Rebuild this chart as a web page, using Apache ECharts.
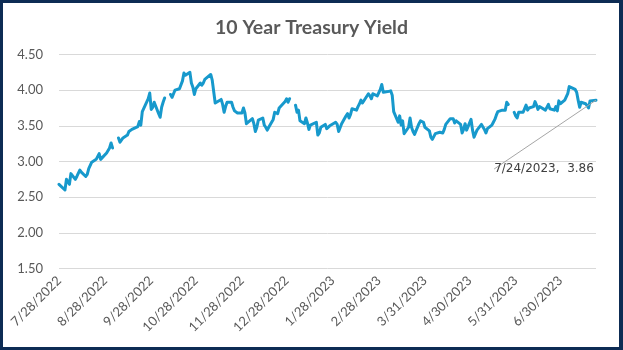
<!DOCTYPE html>
<html>
<head>
<meta charset="utf-8">
<script src="https://cdn.jsdelivr.net/npm/echarts@6/dist/echarts.min.js"></script>
<style>
  html, body { margin: 0; padding: 0; background: #ffffff; }
  #wrap { position: relative; width: 623px; height: 350px; }
  #chart { position: absolute; left: 0; top: 0; width: 623px; height: 350px; }
  #frame {
    position: absolute; left: 0; top: 0; width: 623px; height: 350px;
    box-sizing: border-box; border: 3px solid #0d2c54; border-right-width: 4px;
    pointer-events: none;
  }
</style>
</head>
<body>
<div id="wrap">
  <div id="chart"></div>
  <div id="frame"></div>
</div>
<script>
// Daily 10-year Treasury yield (%), M/D/YYYY; null = market holiday (line break)
const dates = [
  '7/28/2022','7/29/2022',
  '8/1/2022','8/2/2022','8/3/2022','8/4/2022','8/5/2022','8/8/2022','8/9/2022','8/10/2022','8/11/2022','8/12/2022',
  '8/15/2022','8/16/2022','8/17/2022','8/18/2022','8/19/2022','8/22/2022','8/23/2022','8/24/2022','8/25/2022','8/26/2022',
  '8/29/2022','8/30/2022','8/31/2022',
  '9/1/2022','9/2/2022','9/5/2022','9/6/2022','9/7/2022','9/8/2022','9/9/2022','9/12/2022','9/13/2022','9/14/2022',
  '9/15/2022','9/16/2022','9/19/2022','9/20/2022','9/21/2022','9/22/2022','9/23/2022','9/26/2022','9/27/2022','9/28/2022',
  '9/29/2022','9/30/2022',
  '10/3/2022','10/4/2022','10/5/2022','10/6/2022','10/7/2022','10/10/2022','10/11/2022','10/12/2022','10/13/2022','10/14/2022',
  '10/17/2022','10/18/2022','10/19/2022','10/20/2022','10/21/2022','10/24/2022','10/25/2022','10/26/2022','10/27/2022','10/28/2022',
  '10/31/2022',
  '11/1/2022','11/2/2022','11/3/2022','11/4/2022','11/7/2022','11/8/2022','11/9/2022','11/10/2022','11/14/2022','11/15/2022',
  '11/16/2022','11/17/2022','11/18/2022','11/21/2022','11/22/2022','11/23/2022','11/25/2022','11/28/2022','11/29/2022','11/30/2022',
  '12/1/2022','12/2/2022','12/5/2022','12/6/2022','12/7/2022','12/8/2022','12/9/2022','12/12/2022','12/13/2022','12/14/2022',
  '12/15/2022','12/16/2022','12/19/2022','12/20/2022','12/21/2022','12/22/2022','12/23/2022','12/27/2022','12/28/2022','12/29/2022',
  '12/30/2022',
  '1/2/2023','1/3/2023','1/4/2023','1/5/2023','1/6/2023','1/9/2023','1/10/2023','1/11/2023','1/12/2023','1/13/2023',
  '1/17/2023','1/18/2023','1/19/2023','1/20/2023','1/23/2023','1/24/2023','1/25/2023','1/26/2023','1/27/2023','1/30/2023',
  '1/31/2023',
  '2/1/2023','2/2/2023','2/3/2023','2/6/2023','2/7/2023','2/8/2023','2/9/2023','2/10/2023','2/13/2023','2/14/2023',
  '2/15/2023','2/16/2023','2/17/2023','2/21/2023','2/22/2023','2/23/2023','2/24/2023','2/27/2023','2/28/2023',
  '3/1/2023','3/2/2023','3/3/2023','3/6/2023','3/7/2023','3/8/2023','3/9/2023','3/10/2023','3/13/2023','3/14/2023',
  '3/15/2023','3/16/2023','3/17/2023','3/20/2023','3/21/2023','3/22/2023','3/23/2023','3/24/2023','3/27/2023','3/28/2023',
  '3/29/2023','3/30/2023','3/31/2023',
  '4/3/2023','4/4/2023','4/5/2023','4/6/2023','4/7/2023','4/10/2023','4/11/2023','4/12/2023','4/13/2023','4/14/2023',
  '4/17/2023','4/18/2023','4/19/2023','4/20/2023','4/21/2023','4/24/2023','4/25/2023','4/26/2023','4/27/2023','4/28/2023',
  '5/1/2023','5/2/2023','5/3/2023','5/4/2023','5/5/2023','5/8/2023','5/9/2023','5/10/2023','5/11/2023','5/12/2023',
  '5/15/2023','5/16/2023','5/17/2023','5/18/2023','5/19/2023','5/22/2023','5/23/2023','5/24/2023','5/25/2023','5/26/2023',
  '5/29/2023','5/30/2023','5/31/2023',
  '6/1/2023','6/2/2023','6/5/2023','6/6/2023','6/7/2023','6/8/2023','6/9/2023','6/12/2023','6/13/2023','6/14/2023',
  '6/15/2023','6/16/2023','6/20/2023','6/21/2023','6/22/2023','6/23/2023','6/26/2023','6/27/2023','6/28/2023','6/29/2023',
  '6/30/2023',
  '7/3/2023','7/5/2023','7/6/2023','7/7/2023','7/10/2023','7/11/2023','7/12/2023','7/13/2023','7/14/2023','7/17/2023',
  '7/18/2023','7/19/2023','7/20/2023','7/21/2023','7/24/2023'
];

const yields = [
  2.68, 2.67,
  2.60, 2.75, 2.73, 2.68, 2.83, 2.75, 2.79, 2.78, 2.88, 2.85,
  2.79, 2.82, 2.90, 2.88, 2.99, 3.03, 3.05, 3.11, 3.03, 3.04,
  3.12, 3.11, 3.19,
  3.26, 3.19, null, 3.33, 3.27, 3.29, 3.33, 3.37, 3.42, 3.41,
  3.45, 3.45, 3.49, 3.56, 3.51, 3.70, 3.69, 3.88, 3.96, 3.73,
  3.76, 3.83,
  3.67, 3.62, 3.76, 3.83, 3.89, null, 3.94, 3.90, 3.95, 4.00,
  4.02, 4.01, 4.13, 4.24, 4.21, 4.25, 4.10, 4.04, 3.94, 4.02,
  4.10,
  4.07, 4.10, 4.15, 4.17, 4.22, 4.14, 4.12, 3.82, 3.87, 3.80,
  3.69, 3.77, 3.83, 3.83, 3.76, 3.71, 3.68, 3.68, 3.75, 3.68,
  3.53, 3.51, 3.60, 3.53, 3.42, 3.48, 3.58, 3.61, 3.51, 3.48,
  3.44, 3.48, 3.59, 3.69, 3.68, 3.67, 3.75, 3.84, 3.88, 3.83,
  3.88,
  null, 3.79, 3.69, 3.72, 3.57, 3.53, 3.61, 3.54, 3.45, 3.51,
  3.55, 3.37, 3.40, 3.48, 3.52, 3.46, 3.46, 3.50, 3.52, 3.55,
  3.52,
  3.42, 3.40, 3.53, 3.64, 3.67, 3.61, 3.66, 3.74, 3.72, 3.77,
  3.81, 3.86, 3.82, 3.95, 3.92, 3.88, 3.95, 3.92, 3.92,
  4.01, 4.08, 3.97, 3.98, 3.97, 3.99, 3.93, 3.70, 3.55, 3.64,
  3.51, 3.57, 3.39, 3.48, 3.61, 3.48, 3.42, 3.38, 3.53, 3.57,
  3.56, 3.55, 3.48,
  3.43, 3.34, 3.31, 3.30, 3.39, 3.41, 3.43, 3.40, 3.45, 3.52,
  3.60, 3.59, 3.60, 3.54, 3.57, 3.52, 3.40, 3.45, 3.53, 3.44,
  3.59, 3.44, 3.34, 3.39, 3.44, 3.52, 3.52, 3.45, 3.40, 3.46,
  3.51, 3.55, 3.59, 3.65, 3.70, 3.72, 3.70, 3.72, 3.83, 3.80,
  null, 3.69, 3.64,
  3.61, 3.69, 3.69, 3.70, 3.79, 3.72, 3.75, 3.77, 3.84, 3.79,
  3.73, 3.77, 3.72, 3.72, 3.80, 3.74, 3.72, 3.77, 3.71, 3.85,
  3.81,
  3.86, 3.95, 4.05, 4.06, 4.01, 3.97, 3.86, 3.76, 3.83, 3.81,
  3.80, 3.75, 3.85, 3.84, 3.86
];

// Monthly date labels along the bottom axis
const tickLabels = [
  '7/28/2022','8/28/2022','9/28/2022','10/28/2022','11/28/2022','12/28/2022',
  '1/28/2023','2/28/2023','3/31/2023','4/30/2023','5/31/2023','6/30/2023'
];

const yTicks = [1.5, 2.0, 2.5, 3.0, 3.5, 4.0, 4.5];

// The x axis counts calendar days from the first date
const DAY = 86400000;
function toTime(s) {
  const [m, d, y] = s.split('/').map(Number);
  return Date.UTC(y, m - 1, d);
}
const t0 = toTime(dates[0]);
function toDay(s) { return Math.round((toTime(s) - t0) / DAY); }
function fmtDay(n) {
  const d = new Date(t0 + Math.round(n) * DAY);
  return (d.getUTCMonth() + 1) + '/' + d.getUTCDate() + '/' + d.getUTCFullYear();
}

const lastIndex = dates.length - 1;
const seriesData = dates.map((s, i) => {
  const item = { value: [toDay(s), yields[i]] };
  if (i === lastIndex) {
    item.label = { show: true };
    item.labelLine = { show: true };
  }
  return item;
});

const chart = echarts.init(document.getElementById('chart'), null, { renderer: 'canvas' });
const axisFont = 'Lato, "Open Sans", sans-serif';

chart.setOption({
  animation: false,
  backgroundColor: '#ffffff',
  title: {
    text: '10 Year Treasury Yield',
    left: 'center',
    top: 13,
    textStyle: { fontFamily: axisFont, fontSize: 19.5, fontWeight: 'bold', color: '#595959' }
  },
  grid: { left: 59, right: 27, top: 54.5, bottom: 81.5, containLabel: false },
  xAxis: {
    type: 'value',
    min: 0,
    max: toDay(dates[lastIndex]),
    axisLine: { show: false },
    axisTick: { show: false },
    splitLine: { show: false },
    axisLabel: {
      customValues: tickLabels.map(toDay),
      rotate: 45,
      margin: 10,
      fontFamily: axisFont,
      fontSize: 13,
      color: '#595959',
      formatter: (v) => fmtDay(v),
      showMinLabel: true,
      showMaxLabel: true,
      hideOverlap: false
    }
  },
  yAxis: {
    type: 'value',
    min: yTicks[0],
    max: yTicks[yTicks.length - 1],
    interval: 0.5,
    axisLine: { show: false },
    axisTick: { show: false },
    splitLine: { lineStyle: { color: '#d9d9d9', width: 1 } },
    axisLabel: {
      margin: 16,
      fontFamily: axisFont,
      fontSize: 13,
      color: '#595959',
      formatter: (v) => v.toFixed(2)
    }
  },
  series: [{
    type: 'line',
    data: seriesData,
    connectNulls: false,
    showSymbol: true,
    showAllSymbol: true,
    symbol: 'circle',
    symbolSize: 0,
    lineStyle: { color: '#1799cc', width: 3, join: 'round', cap: 'round' },
    itemStyle: { color: '#1799cc' },
    label: {
      show: false,
      fontFamily: '"DejaVu Sans", sans-serif',
      fontSize: 12,
      color: '#404040',
      padding: [0, 0, 40, 0],
      formatter: (p) => fmtDay(p.value[0]) + ',  ' + p.value[1].toFixed(2)
    },
    labelLine: {
      show: false,
      length2: 3,
      lineStyle: { color: '#a6a6a6', width: 1 }
    },
    labelLayout: (params) => params.dataIndex === lastIndex
      ? { x: 544, y: 163, align: 'center', verticalAlign: 'top' }
      : {},
    emphasis: { disabled: true }
  }]
});
</script>
</body>
</html>
